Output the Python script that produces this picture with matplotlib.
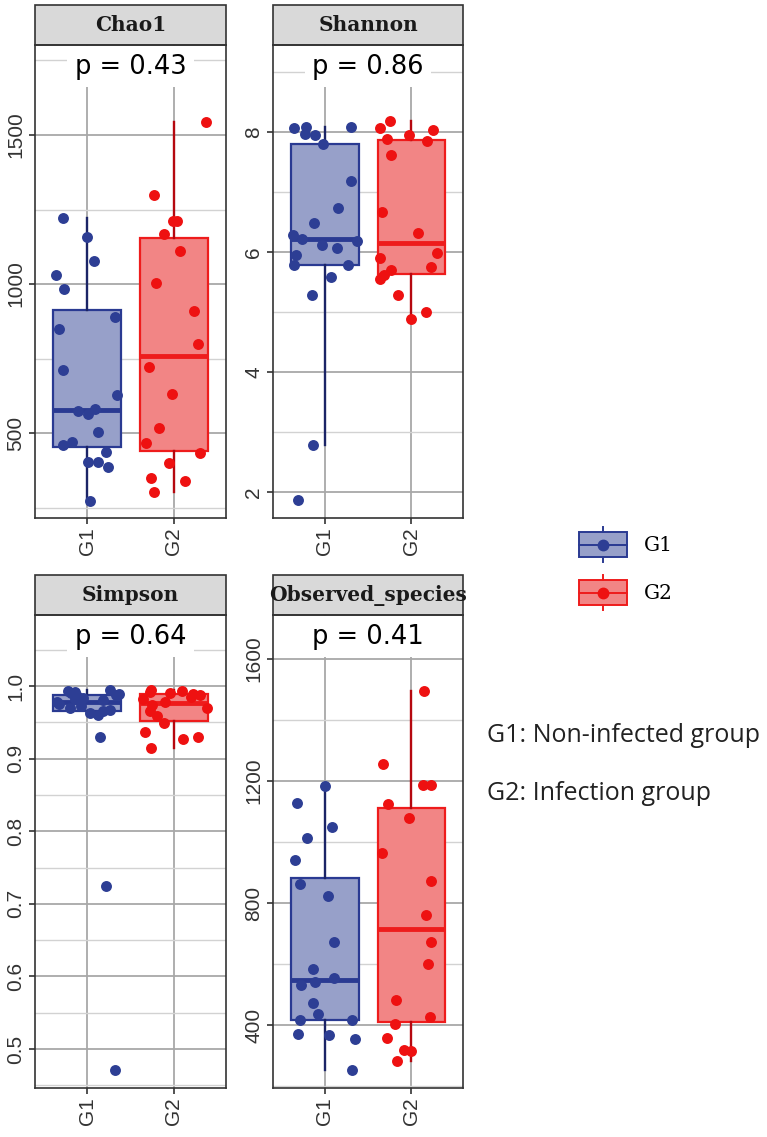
"""
Alpha diversity boxplots (Chao1 / Shannon / Simpson / Observed_species), G1 vs G2
"""

import numpy as np
import matplotlib.pyplot as plt
from matplotlib.patches import Rectangle
from matplotlib.lines import Line2D
from matplotlib.legend_handler import HandlerBase

# ---------------- data ----------------
metrics = ["Chao1", "Shannon", "Simpson", "Observed_species"]
groups = ["G1", "G2"]
p_values = ["0.43", "0.86", "0.64", "0.41"]
captions = ["G1: Non-infected group", "G2: Infection group"]

chao1_g1 = [1221, 1158, 1077, 1030, 983, 889, 849, 711, 627, 580, 574, 564,
            503, 470, 460, 436, 403, 403, 386, 272]
chao1_g2 = [1544, 1299, 1211, 1211, 1168, 1111, 1003, 909, 799, 721, 631,
            517, 466, 433, 399, 349, 339, 302]

shannon_g1 = [8.08, 8.08, 8.06, 7.97, 7.95, 7.80, 7.18, 6.74, 6.49, 6.29,
              6.22, 6.18, 6.12, 6.06, 5.95, 5.78, 5.78, 5.59, 5.28, 2.79, 1.87]
shannon_g2 = [8.19, 8.06, 8.04, 7.95, 7.88, 7.85, 7.62, 6.67, 6.31, 5.99,
              5.90, 5.75, 5.70, 5.61, 5.55, 5.28, 5.01, 4.88]

simpson_g1 = [0.995, 0.993, 0.992, 0.990, 0.989, 0.988, 0.986, 0.984, 0.982,
              0.980, 0.978, 0.975, 0.972, 0.970, 0.967, 0.965, 0.963, 0.960,
              0.930, 0.724, 0.471]
simpson_g2 = [0.995, 0.993, 0.992, 0.990, 0.989, 0.987, 0.985, 0.982, 0.978,
              0.974, 0.970, 0.965, 0.958, 0.949, 0.937, 0.930, 0.927, 0.914]

observed_g1 = [1184, 1129, 1048, 1012, 940, 862, 823, 672, 585, 555, 542,
               531, 474, 438, 419, 416, 373, 367, 354, 253]
observed_g2 = [1495, 1257, 1187, 1187, 1124, 1078, 964, 871, 760, 672, 602,
               484, 427, 406, 358, 321, 316, 283]

# ---------------- styles ----------------
W, H = 767, 1137
BLUE_EDGE, BLUE_FILL, BLUE_WHISK, BLUE_PT = "#2A3A92", "#97A0C9", "#1B2466", "#2D3E94"
RED_EDGE, RED_FILL, RED_WHISK, RED_PT = "#EE1C1C", "#F28585", "#B5080F", "#EE1111"

panel_cfg = {
    "Chao1": dict(ylim=(215, 1802), major=[500, 1000, 1500],
                  minor=[250, 750, 1250, 1750], labels=["500", "1000", "1500"]),
    "Shannon": dict(ylim=(1.57, 9.45), major=[2, 4, 6, 8], minor=[3, 5, 7, 9],
                    labels=["2", "4", "6", "8"]),
    "Simpson": dict(ylim=(0.4464, 1.0977), major=[0.5, 0.6, 0.7, 0.8, 0.9, 1.0],
                    minor=[0.45, 0.55, 0.65, 0.75, 0.85, 0.95, 1.05],
                    labels=["0.5", "0.6", "0.7", "0.8", "0.9", "1.0"]),
    "Observed_species": dict(ylim=(195, 1743), major=[400, 800, 1200, 1600],
                             minor=[200, 600, 1000, 1400],
                             labels=["400", "800", "1200", "1600"]),
}
series = {
    "Chao1": (chao1_g1, chao1_g2),
    "Shannon": (shannon_g1, shannon_g2),
    "Simpson": (simpson_g1, simpson_g2),
    "Observed_species": (observed_g1, observed_g2),
}

# panel boxes in pixels: (left, top, right, bottom)
panel_px = [(35, 45, 226, 518), (273, 45, 463, 518),
            (35, 615, 226, 1088), (273, 615, 463, 1088)]
STRIP_H = 40


class BoxKey:
    def __init__(self, edge, fill, whisk, point):
        self.edge, self.fill, self.whisk, self.point = edge, fill, whisk, point


class BoxKeyHandler(HandlerBase):
    def create_artists(self, legend, h, xdescent, ydescent, width, height,
                       fontsize, trans):
        x0, y0 = -xdescent, -ydescent
        cx, cy = x0 + width / 2, y0 + height / 2
        box = Rectangle((x0, y0 + height * 0.15), width, height * 0.7,
                        facecolor=h.fill, edgecolor=h.edge, lw=1.4, transform=trans)
        w1 = Line2D([cx, cx], [y0 + height * 0.85, y0 + height], color=h.edge,
                    lw=1.4, transform=trans)
        w2 = Line2D([cx, cx], [y0, y0 + height * 0.15], color=h.edge,
                    lw=1.4, transform=trans)
        med = Line2D([x0, x0 + width], [cy, cy], color=h.edge, lw=1.4, transform=trans)
        pt = Line2D([cx], [cy], marker="o", ms=7.5, color=h.point, lw=0, transform=trans)
        return [box, w1, w2, med, pt]


fig = plt.figure(figsize=(W / 100, H / 100), dpi=100)
rng = np.random.default_rng(11)

for k, name in enumerate(metrics):
    l, t, r, b = panel_px[k]
    ax = fig.add_axes([l / W, 1 - b / H, (r - l) / W, (b - t) / H])
    cfg = panel_cfg[name]
    g1, g2 = series[name]

    bp = ax.boxplot([g1, g2], positions=[1, 2], widths=0.78, whis=1.5,
                    showfliers=False, showcaps=False, patch_artist=True,
                    zorder=2)
    for i, (edge, fill, whisk) in enumerate([(BLUE_EDGE, BLUE_FILL, BLUE_WHISK),
                                              (RED_EDGE, RED_FILL, RED_WHISK)]):
        bp["boxes"][i].set(facecolor=fill, edgecolor=edge, linewidth=1.6)
        bp["medians"][i].set(color=edge, linewidth=3.5, solid_capstyle="butt")
        for wl in bp["whiskers"][2 * i:2 * i + 2]:
            wl.set(color=whisk, linewidth=1.7)

    for i, (vals, col) in enumerate([(g1, BLUE_PT), (g2, RED_PT)]):
        xs = i + 1 + rng.uniform(-0.38, 0.38, len(vals))
        ax.scatter(xs, vals, s=62, color=col, linewidths=0, zorder=3)

    ax.set_xlim(0.4, 2.6)
    ax.set_ylim(*cfg["ylim"])
    ax.set_xticks([1, 2], groups)
    ax.set_yticks(cfg["major"], cfg["labels"])
    ax.set_yticks(cfg["minor"], minor=True)
    ax.set_axisbelow(True)
    ax.grid(which="major", color="#A8A8A8", lw=1.3)
    ax.grid(which="minor", axis="y", color="#D2D2D2", lw=1.0)
    ax.tick_params(which="minor", length=0)
    ax.tick_params(which="major", length=4, width=1.2, color="#333333",
                   labelcolor="#333333", labelsize=15, pad=3)
    ax.tick_params(axis="both", labelrotation=90)
    for lab in ax.get_yticklabels():
        lab.set_family("Liberation Sans")
        lab.set_va("center")
    for lab in ax.get_xticklabels():
        lab.set_family("Liberation Sans")
    for sp in ax.spines.values():
        sp.set_color("#333333")
        sp.set_linewidth(1.2)

    ax.text(0.5, 0.954, "p = " + p_values[k], transform=ax.transAxes,
            ha="center", va="center", fontsize=18.5, family="DejaVu Sans",
            color="black", zorder=4,
            bbox=dict(boxstyle="square,pad=0.3", fc="white", ec="none"))

    sh = STRIP_H / (b - t)
    strip = Rectangle((0, 1), 1, sh, transform=ax.transAxes, clip_on=False,
                      facecolor="#D9D9D9", edgecolor="#333333", lw=1.2)
    ax.add_patch(strip)
    st = ax.text(0.5, 1 + sh / 2, name, transform=ax.transAxes, ha="center",
                 va="center", fontsize=14.5, family="DejaVu Serif",
                 weight="bold", color="#1A1A1A")
    st.set_clip_path(strip)

handles = [BoxKey(BLUE_EDGE, BLUE_FILL, BLUE_WHISK, BLUE_PT),
           BoxKey(RED_EDGE, RED_FILL, RED_WHISK, RED_PT)]
fig.legend(handles, groups, handler_map={BoxKey: BoxKeyHandler()},
           loc="upper left", bbox_to_anchor=(579 / W, 1 - 527 / H),
           frameon=False, borderpad=0, borderaxespad=0, handlelength=2.4,
           handleheight=2.3, handletextpad=0.8, labelspacing=0.65,
           prop=dict(family="DejaVu Serif", size=14.5))

for cap, ypx in zip(captions, [735, 793]):
    fig.text(487 / W, 1 - ypx / H, cap, ha="left", va="center",
             fontsize=18, family="Open Sans", color="#222222")

fig.savefig("out.png", dpi=100)
